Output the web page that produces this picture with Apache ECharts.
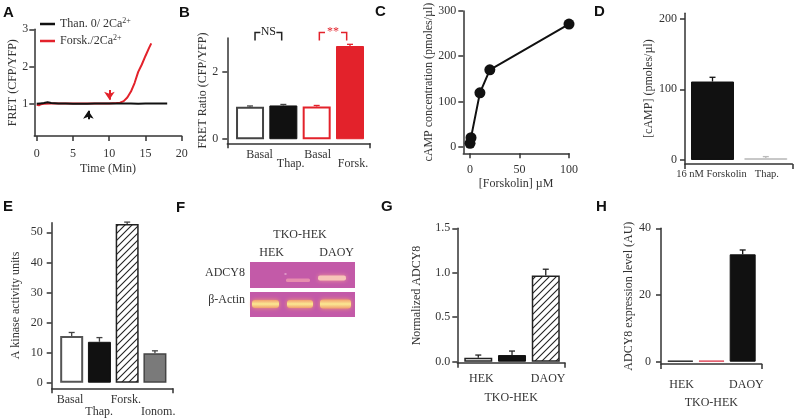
<!DOCTYPE html>
<html><head><meta charset="utf-8">
<script src="https://cdn.jsdelivr.net/npm/echarts@6/dist/echarts.min.js"></script>
<style>html,body{margin:0;padding:0;background:#fff}#c{width:794px;height:420px}</style>
</head><body><div id="c"></div>
<script>
// ---------- DATA ----------
// Panel A: FRET time course
const aThapTime  = [0, 0.5, 1, 1.5, 2, 3, 4, 5, 6, 7, 8, 9, 10, 11, 12, 13, 14, 15, 16, 17, 18];
const aThapValue = [0.99, 1.0, 1.01, 1.03, 1.01, 1.0, 1.0, 0.99, 0.99, 0.99, 1.0, 1.0, 1.0, 1.0, 1.0, 1.0, 0.99, 1.0, 1.0, 1.0, 1.0];
const aForskTime  = [0, 0.3, 0.6, 1, 2, 3, 4, 5, 6, 7, 8, 9, 10, 11, 11.5, 12, 12.5, 13, 13.5, 14, 14.5, 15, 15.5, 15.8];
const aForskValue = [0.96, 0.95, 0.98, 0.99, 1.0, 1.0, 1.0, 1.0, 1.0, 1.0, 1.0, 1.0, 1.0, 1.01, 1.02, 1.06, 1.16, 1.32, 1.55, 1.85, 2.05, 2.28, 2.5, 2.62];
const aXTicks = [0, 5, 10, 15, 20];
const aYTicks = [1, 2, 3];
// Panel B
const bLabels = ['Basal', 'Thap.', 'Basal', 'Forsk.'];
const bValues = [0.965, 1.0, 0.97, 2.76];
const bErrors = [0.02, 0.03, 0.03, 0.05];
const bYTicks = [0, 2];
const bSigText = ['NS', '**'];
// Panel C
const cForskolin = [0, 1, 10, 20, 100];
const cCamp = [7.5, 20, 119, 170, 271];
const cXTicks = [0, 50, 100];
const cYTicks = [0, 100, 200, 300];
// Panel D
const dLabels = ['16 nM Forskolin', 'Thap.'];
const dValues = [111, 2.8];
const dErrors = [6, 2];
const dYTicks = [0, 100, 200];
// Panel E
const eLabels = ['Basal', 'Thap.', 'Forsk.', 'Ionom.'];
const eValues = [15.5, 13.6, 52.8, 9.8];
const eErrors = [1.2, 1.4, 0.6, 0.8];
const eYTicks = [0, 10, 20, 30, 40, 50];
// Panel G
const gLabels = ['HEK', 'DAOY'];
const gValues = [0.045, 0.075, 0.97];
const gErrors = [0.03, 0.045, 0.07];
const gYTicks = [0, 0.5, 1.0, 1.5];
// Panel H
const hLabels = ['HEK', 'DAOY'];
const hValues = [0.3, 0.35, 32.2];
const hErrors = [0, 0, 1.3];
const hYTicks = [0, 20, 40];

// ---------- STYLE HELPERS ----------
const SERIF = 'Liberation Serif';
const TXT = '#333';
const AX = '#333';
const RED = '#e3222b';

function hatch() {
  const s = 7, c = document.createElement('canvas');
  c.width = s; c.height = s;
  const g = c.getContext('2d');
  g.fillStyle = '#fff'; g.fillRect(0, 0, s, s);
  g.strokeStyle = '#222'; g.lineWidth = 1.1;
  g.beginPath();
  g.moveTo(0, s); g.lineTo(s, 0);
  g.moveTo(-1, 1); g.lineTo(1, -1);
  g.moveTo(s - 1, s + 1); g.lineTo(s + 1, s - 1);
  g.stroke();
  return c;
}
const HATCH = { image: hatch(), repeat: 'repeat' };

const axLine = { show: true, onZero: false, lineStyle: { color: AX, width: 1.5 } };
const txt = { color: TXT, fontFamily: SERIF, fontSize: 12 };

function yAx(gi, min, max, ticks, margin, name, nameGap, fmt) {
  return {
    type: 'value', gridIndex: gi, min: min, max: max,
    axisLine: axLine,
    axisTick: { show: true, length: 5, customValues: ticks, lineStyle: { color: AX, width: 1.5 } },
    axisLabel: Object.assign({ customValues: ticks, margin: margin, showMinLabel: true, showMaxLabel: true, formatter: fmt || (v => String(v)) }, txt),
    splitLine: { show: false },
    name: name, nameLocation: 'middle', nameGap: nameGap, nameTextStyle: txt
  };
}
function xNum(gi, min, max, ticks, margin, name, nameGap) {
  return {
    type: 'value', gridIndex: gi, min: min, max: max,
    axisLine: axLine,
    axisTick: { show: true, length: 5, customValues: ticks, lineStyle: { color: AX, width: 1.5 } },
    axisLabel: Object.assign({ customValues: ticks, margin: margin, showMinLabel: true, showMaxLabel: true }, txt),
    splitLine: { show: false },
    name: name, nameLocation: 'middle', nameGap: nameGap, nameTextStyle: txt
  };
}
function xBar(gi, min, max, labels, pos, low, margin, lowPad, name, nameGap, fs) {
  const t = Object.assign({}, txt, { fontSize: fs || 12 });
  return {
    type: 'value', gridIndex: gi, min: min, max: max,
    axisLine: axLine,
    axisTick: { show: true, length: 5, customValues: [min, max], lineStyle: { color: AX, width: 1.5 } },
    axisLabel: {
      customValues: pos, margin: margin, hideOverlap: false,
      formatter: function (v) {
        let bi = 0, bd = 1e9;
        pos.forEach((p, i) => { const d = Math.abs(p - v); if (d < bd) { bd = d; bi = i; } });
        return (low[bi] ? '{lo|' : '{hi|') + labels[bi] + '}';
      },
      rich: {
        hi: Object.assign({}, t),
        lo: Object.assign({ padding: [lowPad, 0, 0, 0] }, t)
      }
    },
    splitLine: { show: false },
    name: name || '', nameLocation: 'middle', nameGap: nameGap || 20, nameTextStyle: txt
  };
}
function barSeries(gi, values, width, styles) {
  return {
    type: 'bar', xAxisIndex: gi, yAxisIndex: gi, barWidth: width, silent: true,
    data: values.map((v, i) => ({ value: [i + 1, v], itemStyle: styles[i] })),
    z: 2
  };
}
function errSeries(gi, values, errors, colors) {
  return {
    type: 'custom', xAxisIndex: gi, yAxisIndex: gi, silent: true, z: 3,
    data: values.map((v, i) => ({ value: [i + 1, v, errors[i]], itemStyle: { color: colors[i] } })),
    renderItem: function (params, api) {
      const x = api.value(0), v = api.value(1), e = api.value(2);
      if (!e) return null;
      const p0 = api.coord([x, v]), p1 = api.coord([x, v + e]);
      const col = api.visual('color'), hw = 3;
      return {
        type: 'group', children: [
          { type: 'line', shape: { x1: p0[0], y1: p0[1], x2: p1[0], y2: p1[1] }, style: { stroke: col, lineWidth: 1.3 } },
          { type: 'line', shape: { x1: p1[0] - hw, y1: p1[1], x2: p1[0] + hw, y2: p1[1] }, style: { stroke: col, lineWidth: 1.3 } }
        ]
      };
    }
  };
}

const white = c => ({ color: '#fff', borderColor: c, borderWidth: 2 });
const solid = c => ({ color: c, borderColor: c, borderWidth: 1 });
const hatched = { color: HATCH, borderColor: '#222', borderWidth: 1.5 };

// ---------- LAYOUT ----------
const grids = [
  { left: 34.3, top: 29.3, width: 147.4, height: 106.7 },   // A
  { left: 227.3, top: 37.9, width: 142.7, height: 105.4 },  // B
  { left: 463.3, top: 11, width: 105.7, height: 142.3 },    // C
  { left: 685, top: 13.3, width: 107.3, height: 150.7 },    // D
  { left: 51.7, top: 222.7, width: 121, height: 165.6 },    // E
  { left: 457.3, top: 228.3, width: 107.7, height: 134.4 }, // G
  { left: 661, top: 228.3, width: 100.7, height: 135.7 }    // H
];

const xAxes = [
  xNum(0, -0.33, 20, aXTicks, 12, 'Time (Min)', 27),
  xBar(1, 0.318, 4.6, bLabels, [1.285, 2.22, 3.03, 4.09], [0, 1, 0, 1], 6, 9),
  xNum(2, -6.8, 100, cXTicks, 11, '[Forskolin] µM', 25),
  xBar(3, 0.484, 2.497, dLabels, [0.98, 2.02], [0, 0], 5, 0, '', 20, 10.5),
  xBar(4, 0.28, 4.64, eLabels, [0.94, 1.99, 2.95, 4.12], [0, 1, 0, 1], 6, 11.7),
  xBar(5, 0.378, 3.57, gLabels, [1.09, 3.07], [0, 0], 10, 0, 'TKO-HEK', 29),
  xBar(6, 0.38, 3.61, hLabels, [1.04, 3.12], [0, 0], 15, 0, 'TKO-HEK', 33)
];
const yAxes = [
  yAx(0, 0.12, 3, aYTicks, 6, 'FRET (CFP/YFP)', 15),
  yAx(1, -0.12, 3, bYTicks, 9, 'FRET Ratio (CFP/YFP)', 16),
  yAx(2, -14.6, 300, cYTicks, 7, 'cAMP concentration (pmoles/µl)', 27),
  yAx(3, -5.66, 207.5, dYTicks, 8, '[cAMP] (pmoles/µl)', 28),
  yAx(4, -1.86, 53.2, eYTicks, 9, 'A kinase activity units', 30),
  yAx(5, -0.011, 1.5, gYTicks, 7, 'Normalized ADCY8', 34, v => v.toFixed(1)),
  yAx(6, -0.69, 40, hYTicks, 10, 'ADCY8 expression level (AU)', 23)
];

const zip = (a, b) => a.map((x, i) => [x, b[i]]);

const series = [
  // A
  {
    name: 'Forsk./2Ca', type: 'line', xAxisIndex: 0, yAxisIndex: 0, showSymbol: false, silent: true,
    data: zip(aForskTime, aForskValue), lineStyle: { color: RED, width: 2 }, itemStyle: { color: RED },
    markLine: {
      silent: true, symbol: ['none', 'arrow'], symbolSize: 8, label: { show: false },
      lineStyle: { color: RED, width: 2, type: 'solid' },
      data: [[{ coord: [10.03, 1.36] }, { coord: [10.03, 1.1] }]]
    }
  },
  {
    name: 'Than. 0/ 2Ca', type: 'line', xAxisIndex: 0, yAxisIndex: 0, showSymbol: false, silent: true,
    data: zip(aThapTime, aThapValue), lineStyle: { color: '#111', width: 2 }, itemStyle: { color: '#111' },
    markLine: {
      silent: true, symbol: ['none', 'arrow'], symbolSize: 8, label: { show: false },
      lineStyle: { color: '#111', width: 2, type: 'solid' },
      data: [[{ coord: [7.13, 0.57] }, { coord: [7.13, 0.8] }]]
    }
  },
  // B
  barSeries(1, bValues, 28, [white('#444'), solid('#111'), white(RED), solid(RED)]),
  errSeries(1, bValues, bErrors, ['#444', '#444', RED, RED]),
  {
    type: 'custom', xAxisIndex: 1, yAxisIndex: 1, silent: true, z: 4,
    data: [
      { value: [1.15, 1.95, 3.16, 2.92], itemStyle: { color: '#222' } },
      { value: [3.08, 3.9, 3.16, 2.92], itemStyle: { color: RED } }
    ],
    renderItem: function (params, api) {
      const x1 = api.value(0), x2 = api.value(1), yt = api.value(2), yb = api.value(3);
      const a = api.coord([x1, yb]), b = api.coord([x1, yt]), c = api.coord([x2, yt]), d = api.coord([x2, yb]);
      const mid = (b[0] + c[0]) / 2, gap = 8, col = api.visual('color');
      return {
        type: 'group', children: [
          { type: 'polyline', shape: { points: [a, b, [mid - gap, b[1]]] }, style: { stroke: col, lineWidth: 1.5, fill: null } },
          { type: 'polyline', shape: { points: [[mid + gap, c[1]], c, d] }, style: { stroke: col, lineWidth: 1.5, fill: null } },
          { type: 'text', x: mid, y: b[1] - 1, style: { text: bSigText[params.dataIndex], fill: col, font: '12px "Liberation Serif"', align: 'center', verticalAlign: 'middle' } }
        ]
      };
    }
  },
  // C
  {
    type: 'line', xAxisIndex: 2, yAxisIndex: 2, silent: true, symbol: 'circle', symbolSize: 11,
    data: zip(cForskolin, cCamp), lineStyle: { color: '#111', width: 2 }, itemStyle: { color: '#111' }
  },
  // D
  barSeries(3, dValues, 43, [solid('#111'), solid('#c8c8c8')]),
  errSeries(3, dValues, dErrors, ['#111', '#bbb']),
  // E
  barSeries(4, eValues, 23, [white('#555'), solid('#111'), hatched, { color: '#7a7a7a', borderColor: '#444', borderWidth: 1.5 }]),
  errSeries(4, eValues, eErrors, ['#444', '#444', '#444', '#444']),
  // G
  barSeries(5, gValues, 28, [{ color: '#fff', borderColor: '#222', borderWidth: 1.5 }, solid('#111'), hatched]),
  errSeries(5, gValues, gErrors, ['#222', '#222', '#222']),
  // H
  barSeries(6, hValues, 26, [solid('#222'), solid('#e05060'), solid('#111')]),
  errSeries(6, hValues, hErrors, ['#111', '#111', '#111'])
];

const legendBase = {
  left: 40, padding: 0, itemWidth: 15, itemHeight: 2.5, icon: 'rect', selectedMode: false,
  formatter: n => n + '{s|2+}',
  textStyle: Object.assign({ rich: { s: { fontSize: 8, fontFamily: SERIF, color: TXT, padding: [0, 0, 7, 0] } } }, txt)
};

const letter = (t, x, y) => ({ type: 'text', x: x, y: y, style: { text: t, font: 'bold 15px "Liberation Sans"', fill: '#111', verticalAlign: 'top' } });
const label = (t, x, y, al) => ({ type: 'text', x: x, y: y, style: { text: t, font: '12px "Liberation Serif"', fill: TXT, align: al || 'center', verticalAlign: 'middle' } });
const actinFill = { type: 'linear', x: 0, y: 0, x2: 0, y2: 1, colorStops: [{ offset: 0, color: '#f2a070' }, { offset: 0.5, color: '#fbe992' }, { offset: 1, color: '#f0a070' }] };

const graphic = [
  letter('A', 3, 5), letter('B', 179, 5), letter('C', 375, 4), letter('D', 594, 4),
  letter('E', 3, 199), letter('F', 176, 200), letter('G', 381, 199), letter('H', 596, 199),
  // Panel F gel picture
  { type: 'rect', shape: { x: 250, y: 262, width: 105, height: 26 }, style: { fill: '#c35aa8' } },
  { type: 'rect', shape: { x: 250, y: 292, width: 105, height: 25 }, style: { fill: '#c35aa8' } },
  { type: 'rect', shape: { x: 286, y: 278.5, width: 24, height: 3.5, r: 1.5 }, style: { fill: 'rgba(236,150,175,0.85)' } },
  { type: 'rect', shape: { x: 284.5, y: 273.5, width: 2, height: 1 }, style: { fill: '#f4d0e4' } },
  { type: 'rect', shape: { x: 318, y: 275.5, width: 28, height: 5, r: 2 }, style: { fill: '#f7c4b8', shadowBlur: 4, shadowColor: '#f39a9a' } },
  { type: 'rect', shape: { x: 252, y: 300, width: 27, height: 8, r: 3 }, style: { fill: actinFill, shadowBlur: 4, shadowColor: '#f3a070' } },
  { type: 'rect', shape: { x: 287, y: 300, width: 26, height: 8, r: 3 }, style: { fill: actinFill, shadowBlur: 4, shadowColor: '#f3a070' } },
  { type: 'rect', shape: { x: 320, y: 299.5, width: 31, height: 9, r: 3 }, style: { fill: actinFill, shadowBlur: 4, shadowColor: '#f3a070' } },
  label('TKO-HEK', 300, 235), label('HEK', 271.7, 253.3), label('DAOY', 336.7, 253.3),
  label('ADCY8', 245, 273.3, 'right'), label('β-Actin', 245, 300, 'right')
];

const option = {
  animation: false,
  backgroundColor: '#fff',
  grid: grids,
  xAxis: xAxes,
  yAxis: yAxes,
  legend: [
    Object.assign({ data: ['Than. 0/ 2Ca'], top: 16.5 }, legendBase),
    Object.assign({ data: ['Forsk./2Ca'], top: 33.5 }, legendBase)
  ],
  series: series,
  graphic: graphic
};

const chart = echarts.init(document.getElementById('c'), null, { renderer: 'canvas', width: 794, height: 420 });
chart.setOption(option);
</script>
</body></html>
